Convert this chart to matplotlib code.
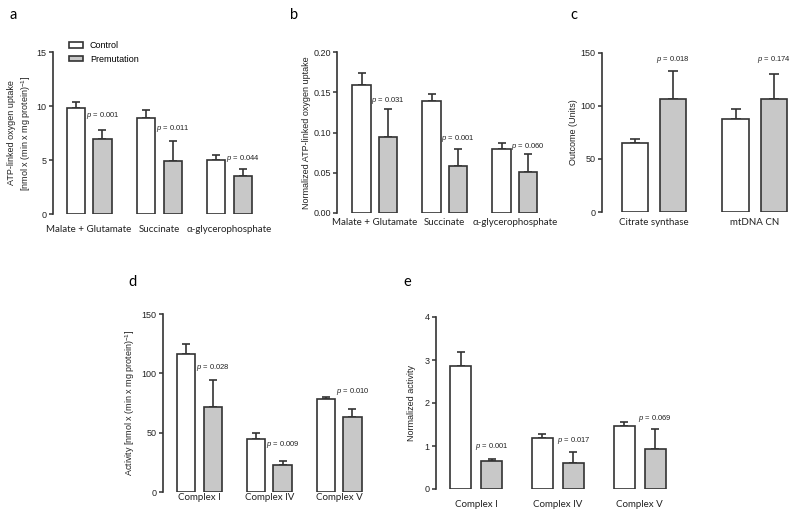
import numpy as np
import matplotlib
matplotlib.use("Agg")
import matplotlib.pyplot as plt
from matplotlib.patches import Patch

plt.rcParams["font.family"] = ["Liberation Sans", "DejaVu Sans"]
plt.rcParams["mathtext.fontset"] = "custom"
plt.rcParams["mathtext.rm"] = "Liberation Sans"
plt.rcParams["mathtext.it"] = "Liberation Sans:italic"

EDGE = "#333333"
GREY = "#c8c8c8"
CAT_FONT = ["Lato", "DejaVu Sans"]

# ---- data ----
a_groups = ["Malate + Glutamate", "Succinate", "α-glycerophosphate"]
a_ctrl = [9.8, 8.9, 5.0]
a_ctrl_err = [0.6, 0.7, 0.5]
a_prem = [6.9, 4.9, 3.5]
a_prem_err = [0.9, 1.9, 0.7]
a_p = ["0.001", "0.011", "0.044"]
a_p_y = [9.1, 7.9, 5.1]

b_groups = ["Malate + Glutamate", "Succinate", "α-glycerophosphate"]
b_ctrl = [0.159, 0.139, 0.079]
b_ctrl_err = [0.015, 0.009, 0.008]
b_prem = [0.095, 0.058, 0.051]
b_prem_err = [0.034, 0.022, 0.022]
b_p = ["0.031", "0.001", "0.060"]
b_p_y = [0.140, 0.093, 0.082]

c_groups = ["Citrate synthase", "mtDNA CN"]
c_ctrl = [65, 88]
c_ctrl_err = [4, 9]
c_prem = [107, 107]
c_prem_err = [26, 23]
c_p = ["0.018", "0.174"]
c_p_y = [144, 144]

d_groups = ["Complex I", "Complex IV", "Complex V"]
d_ctrl = [116, 45, 78]
d_ctrl_err = [9, 5, 2]
d_prem = [72, 23, 63]
d_prem_err = [22, 3, 7]
d_p = ["0.028", "0.009", "0.010"]
d_p_y = [105, 40, 85]

e_groups = ["Complex I", "Complex IV", "Complex V"]
e_ctrl = [2.86, 1.18, 1.46]
e_ctrl_err = [0.32, 0.10, 0.09]
e_prem = [0.66, 0.60, 0.93]
e_prem_err = [0.03, 0.27, 0.47]
e_p = ["0.001", "0.017", "0.069"]
e_p_y = [1.00, 1.12, 1.65]

W, H = 800, 521
fig = plt.figure(figsize=(W / 100, H / 100), dpi=100)


def make_ax(left, right, top, bottom):
    # pixel box -> figure fraction
    return fig.add_axes([left / W, 1 - bottom / H, (right - left) / W, (bottom - top) / H])


def panel(ax, groups, ctrl, ctrl_err, prem, prem_err, pvals, p_y, xlim, ylim, yticks,
          yfmt, ylabel, label_x, cat_pad, capsize, letter, letter_xy):
    x = np.arange(len(groups))
    off, w = 0.19, 0.26
    ax.bar(x - off, ctrl, w, color="white", edgecolor=EDGE, linewidth=1.2, zorder=2)
    ax.bar(x + off, prem, w, color=GREY, edgecolor=EDGE, linewidth=1.2, zorder=2)
    z = np.zeros(len(groups))
    for xs, v, e in [(x - off, ctrl, ctrl_err), (x + off, prem, prem_err)]:
        ax.errorbar(xs, v, yerr=[z, e], fmt="none", ecolor=EDGE, elinewidth=1.2,
                    capsize=capsize, capthick=1.2, zorder=1)
    for xi, pv, py in zip(x, pvals, p_y):
        ax.text(xi + off, py, "$p$ = " + pv, ha="center", va="center", fontsize=5.5,
                color="#222222")
    ax.set_xlim(*xlim)
    ax.set_ylim(*ylim)
    ax.set_yticks(yticks)
    ax.set_yticklabels([yfmt.format(t) for t in yticks], fontsize=6.5, color="#222222")
    ax.set_xticks(x)
    ax.set_xticklabels(groups, fontsize=7, family=CAT_FONT, color="#222222")
    ax.tick_params(axis="x", length=0, pad=cat_pad)
    ax.tick_params(axis="y", length=3, width=1.1, color=EDGE, pad=1.5)
    for s in ["top", "right", "bottom"]:
        ax.spines[s].set_visible(False)
    ax.spines["left"].set_linewidth(1.2)
    ax.spines["left"].set_color(EDGE)
    ax.set_ylabel(ylabel, fontsize=6.5, color="#222222", linespacing=1.3)
    ax.yaxis.set_label_coords(label_x, 0.5)
    fig.text(letter_xy[0] / W, 1 - letter_xy[1] / H, letter, fontsize=10.5,
             family=CAT_FONT, va="center", ha="left")


def lab_x(px, left, right):
    return (px - left) / (right - left)


# panel a
axa = make_ax(53, 262, 52, 214)
panel(axa, a_groups, a_ctrl, a_ctrl_err, a_prem, a_prem_err, a_p, a_p_y,
      (-0.514, 2.46), (0, 15), [0, 5, 10, 15], "{:g}",
      "ATP-linked oxygen uptake\n[nmol x (min x mg protein)$^{-1}$]",
      lab_x(33, 53, 262), 8, 2.7, "a", (10, 15))
axa.legend([Patch(facecolor="white", edgecolor=EDGE, linewidth=1.2),
            Patch(facecolor=GREY, edgecolor=EDGE, linewidth=1.2)],
           ["Control", "Premutation"], loc="upper left",
           bbox_to_anchor=(69 / W, 1 - 41 / H), bbox_transform=fig.transFigure,
           frameon=False, fontsize=6.5, handlelength=1.6, handleheight=0.55,
           handletextpad=0.7, labelspacing=0.5, borderaxespad=0, borderpad=0)

# panel b
axb = make_ax(337, 545, 52, 213)
panel(axb, b_groups, b_ctrl, b_ctrl_err, b_prem, b_prem_err, b_p, b_p_y,
      (-0.54, 2.43), (0, 0.20), [0, 0.05, 0.10, 0.15, 0.20], "{:.2f}",
      "Normalized ATP-linked oxygen uptake",
      lab_x(311, 337, 545), 3.5, 2.7, "b", (290, 15))

# panel c
axc = make_ax(602, 790, 53, 212)
panel(axc, c_groups, c_ctrl, c_ctrl_err, c_prem, c_prem_err, c_p, c_p_y,
      (-0.515, 1.35), (0, 150), [0, 50, 100, 150], "{:g}",
      "Outcome (Units)",
      lab_x(578, 602, 790), 4, 3.8, "c", (570, 15))

# panel d
axd = make_ax(163, 365, 314, 492)
panel(axd, d_groups, d_ctrl, d_ctrl_err, d_prem, d_prem_err, d_p, d_p_y,
      (-0.52, 2.37), (0, 150), [0, 50, 100, 150], "{:g}",
      "Activity [nmol x (min x mg protein)$^{-1}$]",
      lab_x(137, 163, 365), 1, 2.7, "d", (128, 282))

# panel e
axe = make_ax(436, 670, 317, 489)
panel(axe, e_groups, e_ctrl, e_ctrl_err, e_prem, e_prem_err, e_p, e_p_y,
      (-0.49, 2.37), (0, 4), [0, 1, 2, 3, 4], "{:g}",
      "Normalized activity",
      lab_x(416, 436, 670), 8, 3.0, "e", (403, 282))

fig.savefig("out.png", dpi=100)
